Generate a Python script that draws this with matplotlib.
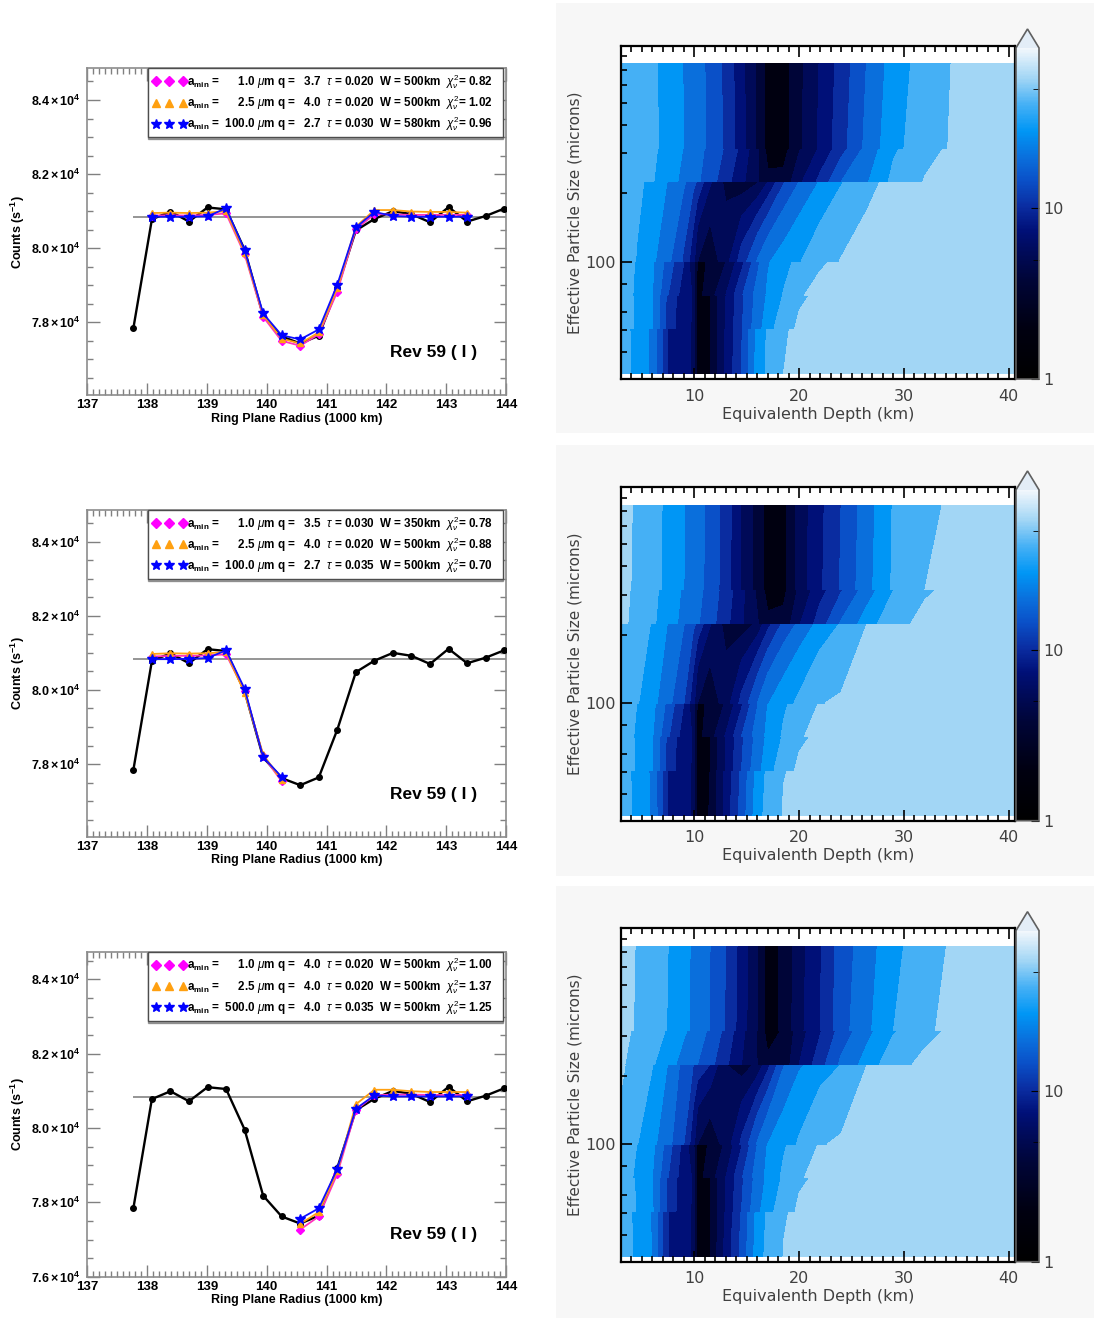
# Occultation profile fits (left) and misfit maps (right), Rev 59
import numpy as np
import matplotlib
matplotlib.use("Agg")
import matplotlib.pyplot as plt
from matplotlib.lines import Line2D
from matplotlib.patches import Rectangle
from matplotlib.colors import LinearSegmentedColormap, LogNorm
from matplotlib.cm import ScalarMappable
from matplotlib.ticker import MultipleLocator, FixedLocator, FuncFormatter, NullFormatter

plt.rcParams['font.family'] = ['Liberation Sans', 'DejaVu Sans']
plt.rcParams['mathtext.fontset'] = 'custom'
plt.rcParams['mathtext.rm'] = 'Liberation Sans'
plt.rcParams['mathtext.it'] = 'Liberation Sans:italic'
plt.rcParams['mathtext.bf'] = 'Liberation Sans:bold'

# ---------------- left column: counts vs ring plane radius ----------------
radius = [137.77, 138.08, 138.39, 138.70, 139.01, 139.32, 139.63, 139.94, 140.25, 140.56,
          140.87, 141.18, 141.49, 141.80, 142.11, 142.42, 142.73, 143.04, 143.35, 143.66, 143.97]
counts = [77840, 80780, 80990, 80720, 81100, 81050, 79960, 78180, 77620, 77430,
          77640, 78930, 80480, 80790, 81000, 80920, 80700, 81110, 80720, 80870, 81070]
mean_counts = 80830

# index range of radius covered by the model fits in each panel
fit_ranges = [(1, 19), (1, 9), (9, 19)]

fit_diamond = [
    [80880, 80890, 80880, 80900, 80940, 79840, 78150, 77500, 77370, 77680, 78830, 80510, 80920, 80910, 80900, 80900, 80900, 80900],
    [80900, 80920, 80920, 80930, 80960, 79970, 78220, 77530],
    [77270, 77620, 78770, 80480, 80880, 80900, 80900, 80890, 80890, 80890],
]
fit_triangle = [
    [80950, 80960, 80950, 80960, 81000, 79880, 78200, 77560, 77430, 77730, 78920, 80580, 81030, 81030, 80990, 80980, 80980, 80960],
    [80970, 80990, 80980, 80990, 81020, 79920, 78260, 77560],
    [77420, 77740, 78840, 80640, 81030, 81030, 80990, 80970, 80970, 80970],
]
fit_star = [
    [80850, 80850, 80850, 80860, 81080, 79950, 78240, 77650, 77540, 77810, 79020, 80560, 80980, 80870, 80850, 80850, 80850, 80850],
    [80830, 80830, 80840, 80860, 81070, 80030, 78190, 77650],
    [77560, 77840, 78900, 80520, 80880, 80850, 80850, 80850, 80850, 80850],
]

leg_amin = [['1.0', '2.5', '100.0'], ['1.0', '2.5', '100.0'], ['1.0', '2.5', '500.0']]
leg_q = [['3.7', '4.0', '2.7'], ['3.5', '4.0', '2.7'], ['4.0', '4.0', '4.0']]
leg_tau = [['0.020', '0.020', '0.030'], ['0.030', '0.020', '0.035'], ['0.020', '0.020', '0.035']]
leg_w = [['500', '500', '580'], ['350', '500', '500'], ['500', '500', '500']]
leg_chi = [['0.82', '1.02', '0.96'], ['0.78', '0.88', '0.70'], ['1.00', '1.37', '1.25']]

# ---------------- right column: misfit level maps ----------------
depth_cols = [3.1, 4.5, 6, 7.5, 9, 9.9, 10.3, 11.5, 13, 14.5, 16, 17, 18.5, 20, 22, 24, 26.5, 29, 32, 35, 40.5]
size_edges = [32.1, 50.9, 71.4, 100, 224.6, 314.6, 743]

# contour band index, two rows (bottom edge, top edge) for each size band, bottom to top
level_p1 = [
    [8.4, 7.7, 6.8, 3.95, 3.3, 2.9, 0.6, 1.0, 3.2, 5.0, 7.4, 8.2, 9.0, 9.1, 9.2, 9.25, 9.3, 9.35, 9.45, 9.55, 9.8],
    [8.4, 7.66, 6.75, 3.95, 3.3, 2.9, 0.6, 1.0, 3.17, 4.9, 7.27, 8.11, 8.94, 9.1, 9.2, 9.25, 9.3, 9.35, 9.45, 9.55, 9.8],
    [8.65, 7.85, 7.05, 4.6, 3.3, 2.9, 0.6, 1.0, 3.1, 4.9, 6.6, 7.5, 8.75, 9.1, 9.15, 9.2, 9.25, 9.35, 9.45, 9.55, 9.8],
    [8.65, 7.85, 7.0, 4.7, 3.36, 2.9, 0.6, 1.0, 3.0, 4.78, 6.33, 7.13, 8.05, 8.9, 9.1, 9.15, 9.25, 9.35, 9.45, 9.55, 9.8],
    [8.6, 7.79, 7.0, 5.0, 3.5, 2.9, 0.6, 1.58, 3.0, 4.88, 6.38, 7.13, 8.05, 8.95, 9.15, 9.2, 9.25, 9.35, 9.45, 9.55, 9.8],
    [8.6, 7.9, 7.15, 5.57, 4.0, 2.25, 0.87, 1.06, 2.0, 3.63, 5.71, 6.89, 7.67, 8.27, 8.93, 9.1, 9.2, 9.3, 9.4, 9.5, 9.8],
    [8.6, 7.95, 7.18, 6.21, 4.83, 3.33, 2.0, 1.3, 2.6, 4.5, 6.08, 6.92, 7.45, 7.94, 8.6, 9.04, 9.15, 9.28, 9.4, 9.5, 9.8],
    [8.7, 8.27, 7.67, 6.95, 6.16, 5.33, 4.86, 3.14, 1.71, 1.3, 1.88, 3.0, 4.88, 6.0, 7.08, 7.92, 8.88, 9.13, 9.3, 9.48, 9.8],
    [8.6, 8.35, 8.06, 7.43, 6.73, 6.32, 6.14, 5.44, 4.38, 3.23, 2.14, 1.2, 1.25, 2.79, 4.29, 6.0, 6.93, 8.27, 9.05, 9.3, 9.8],
    [8.7, 8.45, 8.16, 7.67, 6.95, 6.52, 6.33, 5.72, 4.86, 3.73, 2.22, 0.65, 0.6, 1.88, 3.14, 4.57, 6.36, 7.84, 8.73, 9.2, 9.8],
    [8.8, 8.5, 8.2, 7.7, 7.0, 6.6, 6.4, 5.8, 4.8, 3.4, 1.85, 0.6, 0.55, 1.8, 3.2, 4.6, 6.3, 7.7, 8.6, 9.15, 9.8],
    [8.8, 8.5, 8.16, 7.64, 6.95, 6.55, 6.36, 5.75, 4.73, 3.3, 1.82, 0.6, 0.55, 1.73, 3.07, 4.4, 6.06, 7.45, 8.46, 9.11, 9.8],
]
level_p2 = [
    [8.45, 7.75, 6.85, 3.95, 3.3, 2.9, 0.6, 1.05, 3.4, 5.4, 7.6, 8.35, 9.05, 9.1, 9.2, 9.25, 9.3, 9.35, 9.45, 9.55, 9.8],
    [8.45, 7.7, 6.8, 3.95, 3.3, 2.9, 0.6, 1.0, 3.3, 5.2, 7.35, 8.2, 8.97, 9.1, 9.2, 9.25, 9.3, 9.35, 9.45, 9.55, 9.8],
    [8.65, 7.9, 7.05, 4.6, 3.3, 2.9, 0.6, 1.0, 3.1, 5.0, 6.7, 7.5, 8.75, 9.1, 9.15, 9.2, 9.25, 9.35, 9.45, 9.55, 9.8],
    [8.65, 7.85, 7.0, 4.7, 3.35, 2.9, 0.6, 1.0, 3.0, 4.8, 6.35, 7.2, 8.1, 8.9, 9.1, 9.15, 9.25, 9.35, 9.45, 9.55, 9.8],
    [8.6, 7.85, 7.05, 5.1, 3.5, 2.9, 0.6, 1.6, 3.1, 5.0, 6.5, 7.2, 8.15, 8.95, 9.15, 9.2, 9.25, 9.35, 9.45, 9.55, 9.8],
    [8.6, 8.0, 7.3, 5.7, 4.0, 2.3, 0.85, 1.1, 2.1, 3.8, 5.9, 7.0, 7.8, 8.5, 9.05, 9.12, 9.2, 9.3, 9.4, 9.5, 9.8],
    [8.6, 8.1, 7.3, 6.3, 5.0, 3.4, 2.0, 1.3, 2.5, 4.3, 6.0, 6.95, 7.6, 8.2, 8.97, 9.1, 9.18, 9.28, 9.4, 9.5, 9.8],
    [8.7, 8.35, 7.95, 6.95, 6.05, 5.25, 4.8, 3.1, 1.6, 1.35, 2.2, 3.6, 5.2, 6.2, 7.3, 8.05, 9.0, 9.15, 9.3, 9.45, 9.8],
    [9.2, 8.7, 8.15, 7.45, 6.7, 6.3, 6.1, 5.4, 4.3, 3.1, 2.1, 1.2, 1.3, 2.9, 4.5, 6.1, 7.5, 8.75, 9.2, 9.3, 9.8],
    [9.3, 8.75, 8.25, 7.6, 6.85, 6.45, 6.3, 5.6, 4.55, 3.3, 1.8, 0.6, 0.7, 2.2, 3.6, 4.9, 6.5, 8.0, 8.9, 9.2, 9.8],
    [9.3, 8.8, 8.3, 7.75, 7.0, 6.55, 6.35, 5.65, 4.5, 2.9, 1.6, 0.6, 0.7, 2.45, 3.85, 5.1, 6.7, 8.15, 9.0, 9.2, 9.8],
    [9.35, 8.85, 8.35, 7.78, 7.05, 6.6, 6.38, 5.7, 4.57, 2.92, 1.6, 0.6, 0.7, 2.42, 3.76, 5.0, 6.56, 8.08, 8.82, 9.15, 9.8],
]
level_p3 = [
    [8.5, 7.8, 6.95, 4.0, 3.3, 2.9, 0.6, 1.0, 3.3, 5.3, 7.5, 8.3, 9.02, 9.1, 9.2, 9.25, 9.3, 9.35, 9.45, 9.55, 9.8],
    [8.5, 7.75, 6.9, 4.0, 3.3, 2.9, 0.6, 1.0, 3.2, 5.1, 7.3, 8.15, 8.95, 9.1, 9.2, 9.25, 9.3, 9.35, 9.45, 9.55, 9.8],
    [8.6, 7.95, 7.1, 4.7, 3.3, 2.9, 0.6, 1.0, 3.1, 5.0, 6.75, 7.55, 8.7, 9.1, 9.15, 9.2, 9.25, 9.35, 9.45, 9.55, 9.8],
    [8.6, 7.9, 7.0, 4.8, 3.35, 2.9, 0.6, 1.0, 3.0, 4.8, 6.4, 7.2, 8.15, 8.9, 9.1, 9.15, 9.25, 9.35, 9.45, 9.55, 9.8],
    [8.55, 7.8, 7.0, 5.0, 3.4, 2.9, 0.6, 1.5, 3.0, 4.9, 6.5, 7.25, 8.2, 8.95, 9.15, 9.2, 9.25, 9.35, 9.45, 9.55, 9.8],
    [8.55, 8.0, 7.25, 5.5, 3.6, 2.2, 0.8, 1.05, 2.2, 3.9, 6.0, 7.05, 7.85, 8.55, 9.05, 9.12, 9.2, 9.3, 9.4, 9.5, 9.8],
    [8.6, 8.05, 7.25, 6.3, 5.0, 3.4, 2.0, 1.3, 2.4, 4.2, 6.1, 7.0, 7.55, 8.1, 8.95, 9.1, 9.18, 9.28, 9.4, 9.5, 9.8],
    [9.2, 8.3, 8.05, 6.95, 5.64, 5.0, 4.75, 4.0, 2.0, 1.4, 2.2, 3.6, 5.9, 6.85, 7.45, 8.0, 9.0, 9.15, 9.3, 9.45, 9.8],
    [9.1, 8.6, 8.1, 7.4, 6.6, 6.2, 6.0, 5.3, 4.2, 3.0, 2.0, 1.2, 1.3, 3.0, 4.6, 6.2, 7.4, 8.7, 9.2, 9.3, 9.8],
    [9.3, 8.8, 8.4, 7.9, 7.15, 6.7, 6.5, 5.8, 4.7, 3.3, 1.9, 0.6, 1.1, 2.5, 3.9, 5.4, 6.7, 7.9, 8.75, 9.2, 9.8],
    [9.35, 8.9, 8.45, 7.95, 7.25, 6.8, 6.6, 5.95, 4.9, 3.5, 2.0, 0.6, 1.2, 2.7, 4.0, 5.6, 6.8, 8.0, 8.9, 9.2, 9.8],
    [9.4, 8.95, 8.5, 8.0, 7.3, 6.85, 6.65, 6.0, 5.0, 3.6, 2.1, 0.6, 1.2, 2.6, 3.9, 5.47, 6.57, 7.7, 8.63, 9.17, 9.8],
]
level_maps = [level_p1, level_p2, level_p3]

band_colors = ['#000010', '#000538', '#000a58', '#001078', '#0a2ca0',
               '#0a50c8', '#0a6fdc', '#0096f5', '#45b0f5', '#a2d6f5']
cbar_cmap = LinearSegmentedColormap.from_list('chi', [
    (0.0, '#000000'), (0.15, '#000010'), (0.30, '#000538'), (0.38, '#000a58'),
    (0.45, '#001078'), (0.52, '#0a2ca0'), (0.60, '#0a50c8'), (0.67, '#0a6fdc'),
    (0.75, '#0096f5'), (0.83, '#45b0f5'), (0.91, '#a2d6f5'), (1.0, '#f2f7fc')])
cbar_cmap.set_over('#e3edf7')

# ---------------- figure ----------------
W_PX, H_PX = 1094, 1320
fig = plt.figure(figsize=(10.94, 13.2), dpi=100)


def fbox(x0, y0, x1, y1):
    # pixel box -> figure fraction rect
    return [x0 / W_PX, 1 - y1 / H_PX, (x1 - x0) / W_PX, (y1 - y0) / H_PX]


left_boxes = [(87.3, 68.3, 506, 395), (87.3, 510, 506, 836.7), (87.3, 951.7, 506, 1276.7)]
left_ylims = [(76040, 84855), (76040, 84855), (76000, 84745)]
right_boxes = [(621, 46, 1015, 379), (621, 487.3, 1015, 820.7), (621, 928.3, 1015, 1261.7)]
cbar_boxes = [(1016, 29, 1039, 379), (1016, 471, 1039, 820.7), (1016, 911.7, 1039, 1261.7)]
gray_boxes = [(556, 3, 1094, 433), (556, 445, 1094, 876), (556, 886, 1094, 1318)]

for gb in gray_boxes:
    r = fbox(*gb)
    fig.add_artist(Rectangle((r[0], r[1]), r[2], r[3], transform=fig.transFigure,
                             facecolor='#f7f7f7', edgecolor='none', zorder=-5))

sci_fmt = FuncFormatter(lambda v, p: r'$\mathbf{%.1f\times10^{4}}$' % (v / 1e4))

for i in range(3):
    ax = fig.add_axes(fbox(*left_boxes[i]))
    a, b = fit_ranges[i]
    xs = radius[a:b]
    ax.hlines(mean_counts, radius[0], 144, color='0.55', lw=1.3, zorder=2)
    ax.plot(radius, counts, '-o', color='black', lw=1.7, ms=4, zorder=3)
    ax.plot(xs, fit_diamond[i], '-D', color='#ff33bb', mfc='#ff00ff', mec='#ff00ff', lw=1.3, ms=4.5, zorder=4)
    ax.plot(xs, fit_triangle[i], '-^', color='#ffa010', mfc='#ffa010', mec='#ffa010', lw=1.3, ms=5, zorder=5)
    ax.plot(xs, fit_star[i], '-*', color='#1010ff', mfc='#0000ff', mec='#0000ff', lw=1.3, ms=7, zorder=6)

    ax.set_xlim(137, 144)
    ax.set_ylim(*left_ylims[i])
    ax.xaxis.set_major_locator(MultipleLocator(1))
    ax.xaxis.set_minor_locator(MultipleLocator(0.1))
    ax.yaxis.set_major_locator(MultipleLocator(2000))
    ax.yaxis.set_minor_locator(MultipleLocator(500))
    ax.yaxis.set_major_formatter(sci_fmt)
    ax.tick_params(which='both', direction='in', top=True, right=True, color='0.5', width=1)
    ax.tick_params(which='major', length=9)
    ax.tick_params(which='minor', length=4.5)
    ax.tick_params(axis='x', labelsize=9.5, pad=3)
    ax.tick_params(axis='y', labelsize=9, pad=5)
    for lab in ax.get_xticklabels():
        lab.set_fontweight('bold')
    for sp in ax.spines.values():
        sp.set_color('0.55')
        sp.set_linewidth(1.2)
    ax.set_xlabel('Ring Plane Radius (1000 km)', fontsize=9, fontweight='bold', labelpad=1)
    ax.set_ylabel(r'Counts (s$^{\mathbf{-1}}$)', fontsize=9, fontweight='bold', labelpad=3)
    ax.text(0.723, 0.129, 'Rev 59 ( I )', transform=ax.transAxes, fontsize=12.5,
            fontweight='bold', va='center', ha='left')

    handles = [Line2D([], [], ls='none', marker='D', ms=5.5, color='#ff00ff'),
               Line2D([], [], ls='none', marker='^', ms=6, color='#ffa010'),
               Line2D([], [], ls='none', marker='*', ms=7.5, color='#0000ff')]
    labels = []
    for k in range(3):
        am = leg_amin[i][k]
        pad = '    ' if len(am) == 3 else ''
        labels.append(r'$\mathbf{a_{min}}$ =  ' + pad + am + r' $\mu$m q =   ' + leg_q[i][k]
                      + r'  $\tau$ = ' + leg_tau[i][k] + '  W = ' + leg_w[i][k]
                      + r'km  $\chi^2_\nu$= ' + leg_chi[i][k])
    leg = ax.legend(handles, labels, numpoints=3, loc='upper left',
                    bbox_to_anchor=(0.145, 0.0, 0.8475, 1.0), mode='expand', borderaxespad=0,
                    prop={'weight': 'bold', 'size': 8.4}, handlelength=2.95, handletextpad=0.0,
                    labelspacing=0.2, borderpad=0.35, fancybox=False, framealpha=1,
                    shadow={'ox': 0, 'oy': -1.5})
    leg.get_frame().set_edgecolor('0.3')
    leg.get_frame().set_linewidth(1.0)

gray_txt = '#404040'
cb_norm = LogNorm(vmin=1, vmax=87)
for i in range(3):
    ax = fig.add_axes(fbox(*right_boxes[i]))
    ax.set_facecolor('white')
    grid = level_maps[i]
    for band in range(len(size_edges) - 1):
        ys = [size_edges[band], size_edges[band + 1]]
        zz = np.array([grid[2 * band], grid[2 * band + 1]])
        ax.contourf(depth_cols, ys, zz, levels=np.arange(11), colors=band_colors, antialiased=False)
    ax.set_yscale('log')
    ax.set_xlim(3.0, 40.6)
    ax.set_ylim(30.5, 889)
    ax.set_xticks([10, 20, 30, 40])
    ax.xaxis.set_minor_locator(MultipleLocator(1))
    ax.yaxis.set_major_locator(FixedLocator([100]))
    ax.yaxis.set_major_formatter(FuncFormatter(lambda v, p: '%d' % v))
    ax.yaxis.set_minor_locator(FixedLocator([40, 50, 60, 80, 200, 300, 400, 500, 600, 700, 800]))
    ax.yaxis.set_minor_formatter(NullFormatter())
    ax.tick_params(which='both', direction='in', top=True, right=False, color='black', width=1.2,
                   labelsize=11.5, labelcolor=gray_txt)
    ax.tick_params(which='major', length=8)
    ax.tick_params(which='minor', length=4)
    ax.tick_params(axis='x', pad=7)
    for sp in ax.spines.values():
        sp.set_linewidth(1.6)
    ax.set_xlabel('Equivalenth Depth (km)', fontsize=11.5, color=gray_txt, labelpad=2,
                  family='DejaVu Sans')
    ax.set_ylabel('Effective Particle Size (microns)', fontsize=11, color=gray_txt, labelpad=2,
                  family='DejaVu Sans')
    for lab in ax.get_xticklabels() + ax.get_yticklabels():
        lab.set_family('DejaVu Sans')

    cax = fig.add_axes(fbox(*cbar_boxes[i]))
    sm = ScalarMappable(norm=cb_norm, cmap=cbar_cmap)
    cb = fig.colorbar(sm, cax=cax, extend='max', extendfrac=0.057)
    cb.set_ticks([1, 10])
    cb.set_ticklabels(['1', '10'])
    cb.ax.yaxis.set_minor_locator(FixedLocator([5, 50]))
    cb.ax.yaxis.set_minor_formatter(NullFormatter())
    cb.ax.tick_params(which='both', direction='in', color='black', labelsize=11.5,
                      labelcolor=gray_txt, pad=3)
    cb.ax.tick_params(which='major', length=6)
    cb.ax.tick_params(which='minor', length=4)
    for lab in cb.ax.get_yticklabels():
        lab.set_family('DejaVu Sans')
    cb.outline.set_edgecolor('#606060')
    cb.outline.set_linewidth(1.2)

fig.savefig('out.png', dpi=100)
